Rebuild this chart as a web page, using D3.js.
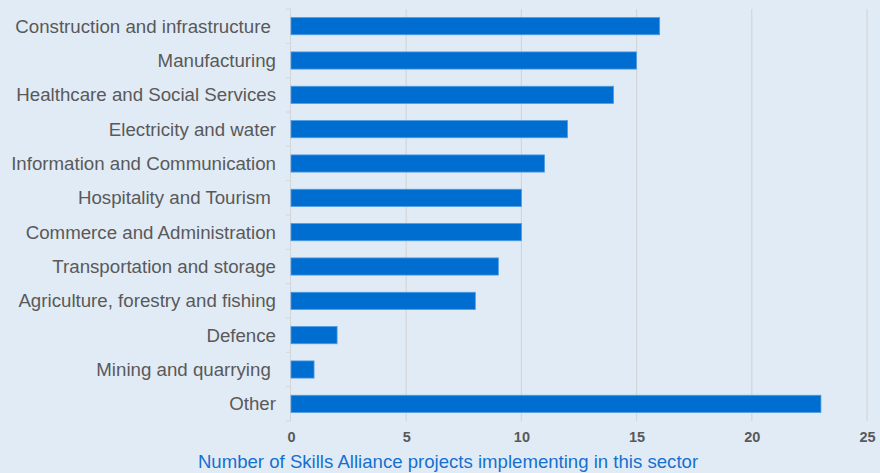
<!DOCTYPE html>
<html>
<head>
<meta charset="utf-8">
<script src="https://cdn.jsdelivr.net/npm/d3@7/dist/d3.min.js"></script>
<style>
  html, body { margin: 0; padding: 0; background: #e1ebf6; }
  svg { display: block; font-family: "Liberation Sans", Arial, Helvetica, sans-serif; }
</style>
</head>
<body>
<svg id="chart" width="880" height="473"></svg>
<script>
const sectors = [
  "Construction and infrastructure ",
  "Manufacturing",
  "Healthcare and Social Services",
  "Electricity and water",
  "Information and Communication",
  "Hospitality and Tourism ",
  "Commerce and Administration",
  "Transportation and storage",
  "Agriculture, forestry and fishing",
  "Defence",
  "Mining and quarrying ",
  "Other"
];
const projects = [16, 15, 14, 12, 11, 10, 10, 9, 8, 2, 1, 23];
const xTicks = [0, 5, 10, 15, 20, 25];
const axisTitle = "Number of Skills Alliance projects implementing in this sector";

const svg = d3.select("#chart");
const margin = { top: 9, right: 13, bottom: 52, left: 291 };
const W = 880, H = 473;

const x = d3.scaleLinear().domain([0, 25]).range([margin.left, W - margin.right]);
const y = d3.scaleBand().domain(sectors).range([margin.top, H - margin.bottom]).paddingInner(0.5).paddingOuter(0.25);
const yb = d3.scaleBand().domain(sectors).range([margin.top, H - margin.bottom]);

svg.append("rect").attr("width", W).attr("height", H).attr("fill", "#e1ebf6");

// vertical gridlines
svg.append("g").selectAll("line").data(xTicks.slice(1)).join("line")
  .attr("x1", d => x(d)).attr("x2", d => x(d))
  .attr("y1", margin.top).attr("y2", H - margin.bottom)
  .attr("stroke", "#d3d6d9").attr("stroke-width", 1.2);

// category axis line and separators
const yAxisG = svg.append("g");
yAxisG.append("line")
  .attr("x1", margin.left - 0.5).attr("x2", margin.left - 0.5)
  .attr("y1", margin.top).attr("y2", H - margin.bottom)
  .attr("stroke", "#d3d6d9");
const bounds = sectors.map(s => yb(s)).concat([H - margin.bottom]);
yAxisG.selectAll("line.sep").data(bounds).join("line").attr("class", "sep")
  .attr("x1", margin.left - 5).attr("x2", margin.left)
  .attr("y1", d => d).attr("y2", d => d)
  .attr("stroke", "#d3d6d9");

// bars
svg.append("g").selectAll("rect").data(sectors).join("rect")
  .attr("x", x(0))
  .attr("y", d => y(d))
  .attr("width", (d, i) => x(projects[i]) - x(0))
  .attr("height", y.bandwidth())
  .attr("fill", "#006dd1")
  .attr("stroke", "#4f9be3")
  .attr("stroke-width", 0.8);

// category labels
svg.append("g").selectAll("text").data(sectors).join("text")
  .attr("x", margin.left - 15)
  .attr("y", d => yb(d) + yb.bandwidth() / 2)
  .attr("dy", "0.35em")
  .attr("text-anchor", "end")
  .attr("font-size", 18.7)
  .attr("fill", "#595959")
  .style("white-space", "pre")
  .text(d => d);

// value axis
const xAxis = d3.axisBottom(x).tickValues(xTicks).tickSize(0).tickPadding(0);
const xg = svg.append("g").attr("transform", `translate(0, ${H - 36})`).call(xAxis);
xg.select(".domain").remove();
xg.selectAll("text")
  .attr("font-size", 14.5).attr("font-weight", "bold").attr("fill", "#595959")
  .attr("font-family", "Liberation Sans, Arial, sans-serif")
  .attr("dy", "0.35em").attr("y", 0);

svg.append("text")
  .attr("x", 448).attr("y", H - 12)
  .attr("dy", "0.35em")
  .attr("text-anchor", "middle")
  .attr("font-size", 18.6)
  .attr("fill", "#1570d0")
  .text(axisTitle);
</script>
</body>
</html>
